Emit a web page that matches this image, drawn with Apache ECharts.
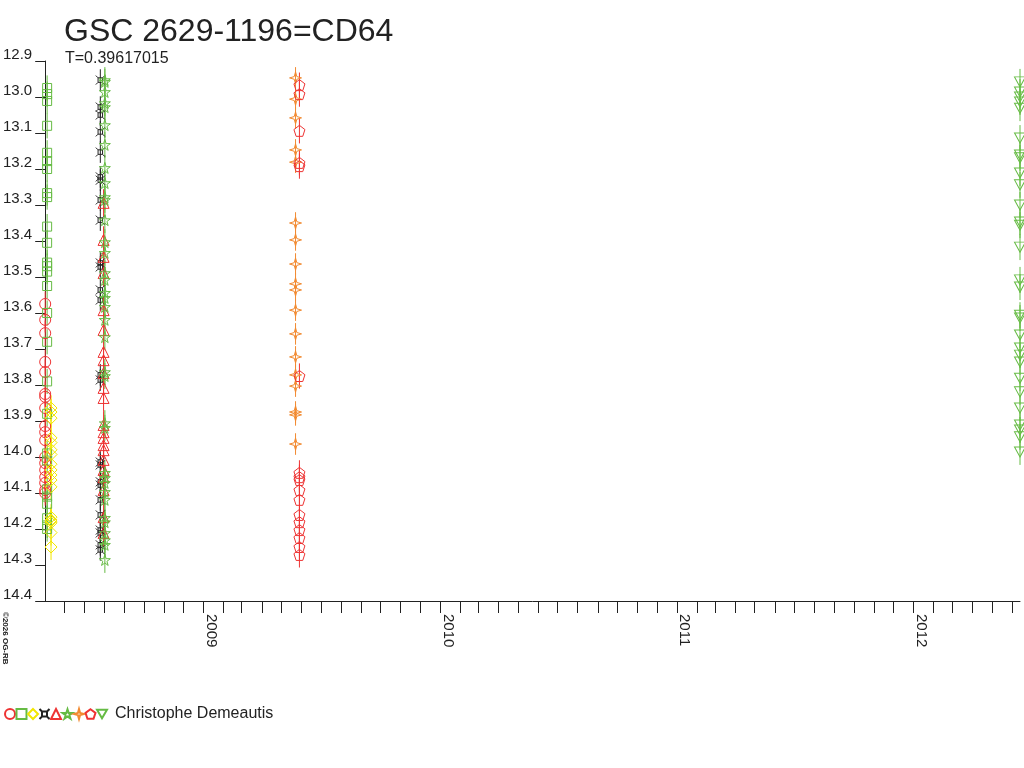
<!DOCTYPE html>
<html><head><meta charset="utf-8">
<script src="https://cdn.jsdelivr.net/npm/echarts@6/dist/echarts.min.js"></script>
<style>html,body{margin:0;padding:0;background:#fff}#c{width:1024px;height:768px}</style>
</head><body><div id="c"></div>
<script>
// ---- texts ----
const titleText = 'GSC 2629-1196=CD64';
const subText = 'T=0.39617015';
const observer = 'Christophe Demeautis';
const copyright = '\u00a92026 OG-RB';

// ---- tick labels ----
const yTickLabels = ['12.9','13.0','13.1','13.2','13.3','13.4','13.5','13.6','13.7','13.8','13.9','14.0','14.1','14.2','14.3','14.4'];
const yearLabels = ['2009','2010','2011','2012'];
const monthTickFirst = '2008-06-01';
const monthTickLast = '2012-06-01';

// ---- data: one night per set (date, magnitudes, error) ----
const redCircleDate = '2008-05-02';
const redCircleMags = [13.575,13.619,13.656,13.736,13.764,13.825,13.833,13.864,13.914,13.931,13.953,14.0,14.017,14.036,14.056,14.072,14.092,14.1];
const greenSquareDate = '2008-05-05';
const greenSquareMags = [12.975,12.992,13.011,13.08,13.155,13.178,13.2,13.267,13.278,13.36,13.405,13.46,13.47,13.485,13.525,13.6,13.68,13.79,13.88,13.99,14.01,14.09,14.11,14.13,14.17,14.19,14.2];
const yellowDiamondDate = '2008-05-11';
const yellowDiamondMags = [13.864,13.875,13.892,13.947,13.96,13.98,13.993,14.02,14.036,14.05,14.064,14.083,14.167,14.175,14.178,14.183,14.21,14.25];
const blackCrossDate = '2008-07-26';
const blackCrossMags = [12.953,13.028,13.05,13.097,13.153,13.222,13.231,13.286,13.342,13.461,13.472,13.536,13.564,13.772,13.786,14.014,14.022,14.069,14.078,14.119,14.161,14.203,14.211,14.244,14.258];
const redTriangleDate = '2008-07-31';
const redTriangleMags = [13.294,13.397,13.444,13.489,13.592,13.647,13.708,13.731,13.767,13.808,13.836,13.911,13.931,13.947,13.967,13.981,14.008,14.036,14.056,14.092,14.167,14.211];
const greenStarDate = '2008-08-02';
const greenStarMags = [12.953,12.958,12.986,13.017,13.028,13.078,13.133,13.197,13.239,13.278,13.286,13.342,13.403,13.433,13.489,13.508,13.544,13.558,13.583,13.619,13.667,13.764,13.775,13.906,13.919,14.044,14.058,14.072,14.097,14.119,14.169,14.181,14.211,14.231,14.244,14.286];
const orangeStarDate = '2009-05-23';
const orangeStarMags = [12.947,13.006,13.058,13.147,13.181,13.35,13.397,13.464,13.519,13.536,13.592,13.658,13.722,13.772,13.803,13.875,13.883,13.964];
const pentagonDate = '2009-05-29';
const pentagonMags = [12.967,12.992,13.094,13.183,13.192,13.775,14.044,14.056,14.064,14.092,14.119,14.161,14.181,14.203,14.225,14.25,14.272];
const downTriangleDate = '2012-06-13';
const downTriangleMags = [12.958,12.986,13.0,13.014,13.031,13.114,13.161,13.169,13.211,13.244,13.3,13.347,13.356,13.417,13.508,13.528,13.606,13.614,13.661,13.697,13.717,13.736,13.781,13.819,13.864,13.911,13.925,13.944,13.986];
const setErrors = [0.035,0.035,0.036,0.03,0.038,0.036,0.03,0.035,0.036];

// ---- styling ----
const RED = '#ee3333', GREEN = '#66bb44', YELLOW = '#f2e600', BLACK = '#222222', ORANGE = '#f28a30';
const SYM_CROSS = 'path://M25,25L75,25L75,75L25,75ZM0,0L25,25M100,0L75,25M100,100L75,75M0,100L25,75';
const SYM_STAR5 = 'path://M50,0L61,35L98,35L68,57L79,91L50,70L21,91L32,57L2,35L39,35Z';
const SYM_STAR4 = 'path://M50,0L61,39L100,50L61,61L50,100L39,61L0,50L39,39Z';
const SYM_PENT = 'path://M50,0L98,35L79,91L21,91L2,35Z';
const SYM_DOWN = 'path://M0,0L100,0L50,87Z';

function utc(s){const p=s.split('-').map(Number);return Date.UTC(p[0],p[1]-1,p[2]);}

const sets = [
  {date:redCircleDate, mags:redCircleMags, color:RED, symbol:'circle', size:11},
  {date:greenSquareDate, mags:greenSquareMags, color:GREEN, symbol:'rect', size:9},
  {date:yellowDiamondDate, mags:yellowDiamondMags, color:YELLOW, symbol:'diamond', size:12},
  {date:blackCrossDate, mags:blackCrossMags, color:BLACK, symbol:SYM_CROSS, size:9},
  {date:redTriangleDate, mags:redTriangleMags, color:RED, symbol:'triangle', size:11},
  {date:greenStarDate, mags:greenStarMags, color:GREEN, symbol:SYM_STAR5, size:11},
  {date:orangeStarDate, mags:orangeStarMags, color:ORANGE, symbol:SYM_STAR4, size:12},
  {date:pentagonDate, mags:pentagonMags, color:RED, symbol:SYM_PENT, size:11},
  {date:downTriangleDate, mags:downTriangleMags, color:GREEN, symbol:SYM_DOWN, size:[11,10]}
];

const monthTicks = [];
(function(){let t=new Date(utc(monthTickFirst));const end=utc(monthTickLast);
  while(t.getTime()<=end){monthTicks.push(t.getTime());t=new Date(Date.UTC(t.getUTCFullYear(),t.getUTCMonth()+1,1));}})();
const yearValues = yearLabels.map(y=>Date.UTC(+y,0,1));

const series = [];
const legendNames = [];
sets.forEach((s,i)=>{
  const x = utc(s.date);
  const data = s.mags.map(m=>[x,m]);
  const err = setErrors[i];
  series.push({
    type:'custom', name:'err'+i, data:data, z:1, silent:true,
    renderItem:function(params,api){
      const xv=api.value(0), m=api.value(1);
      const p1=api.coord([xv,m-err]), p2=api.coord([xv,m+err]);
      return {type:'line', shape:{x1:p1[0],y1:p1[1],x2:p2[0],y2:p2[1]}, style:{stroke:s.color,lineWidth:1}};
    }
  });
  const name = 's'+i;
  legendNames.push(name);
  series.push({
    type:'scatter', name:name, data:data, z:2, symbol:s.symbol, symbolSize:s.size,
    itemStyle:{color:'rgba(0,0,0,0)', borderColor:s.color, borderWidth:1, opacity:1},
    emphasis:{disabled:true}
  });
});

const FONT = 'Liberation Sans';
const chart = echarts.init(document.getElementById('c'), null, {renderer:'canvas'});
chart.setOption({
  animation:false,
  backgroundColor:'#ffffff',
  title:[
    {text:titleText, left:64, top:16, padding:0, textStyle:{fontSize:32, fontWeight:'normal', color:'#222', fontFamily:FONT}},
    {text:subText, left:65, top:51, padding:0, textStyle:{fontSize:16, fontWeight:'normal', color:'#222', fontFamily:FONT}}
  ],
  grid:{left:45, right:4, top:61, bottom:167, containLabel:false},
  xAxis:{
    type:'value', min:'dataMin', max:'dataMax', scale:true,
    axisLine:{show:true, onZero:false, lineStyle:{color:'#222', width:1}},
    axisTick:{show:true, customValues:monthTicks, length:12, lineStyle:{color:'#222'}},
    axisLabel:{show:true, customValues:yearValues, rotate:-90, margin:13, verticalAlign:'bottom',
      formatter:function(v){const y=new Date(v).getUTCFullYear();const k=yearLabels.indexOf(String(y));return k>=0?yearLabels[k]:'';},
      color:'#222', fontSize:15, fontFamily:FONT},
    splitLine:{show:false}
  },
  yAxis:{
    type:'value', inverse:true, min:12.9, max:14.4, interval:0.1,
    axisLine:{show:true, onZero:false, lineStyle:{color:'#222', width:1}},
    axisTick:{show:true, length:10, customValues:yTickLabels.map(Number), lineStyle:{color:'#222'}},
    axisLabel:{show:true, customValues:yTickLabels.map(Number), margin:13, verticalAlign:'bottom', lineHeight:12,
      formatter:function(v){return yTickLabels[Math.round((v-12.9)*10)];},
      color:'#222', fontSize:15, fontFamily:FONT},
    splitLine:{show:false}
  },
  legend:{
    data:legendNames, left:4, top:706, orient:'horizontal', selectedMode:false,
    itemWidth:10, itemHeight:10, itemGap:-0.5, textGap:1, padding:0,
    formatter:function(n){return n===legendNames[legendNames.length-1]?'{a|'+observer+'}':'';},
    textStyle:{color:'#222', fontSize:16, fontFamily:FONT, rich:{a:{fontSize:16, fontFamily:FONT, color:'#222', padding:[0,0,0,3]}}}
  },
  graphic:[
    {type:'text', x:9, y:612, rotation:-Math.PI/2,
     style:{text:copyright, font:'bold 8px '+FONT, fill:'#222', verticalAlign:'top', align:'left'}}
  ],
  series:series
});
</script></body></html>
